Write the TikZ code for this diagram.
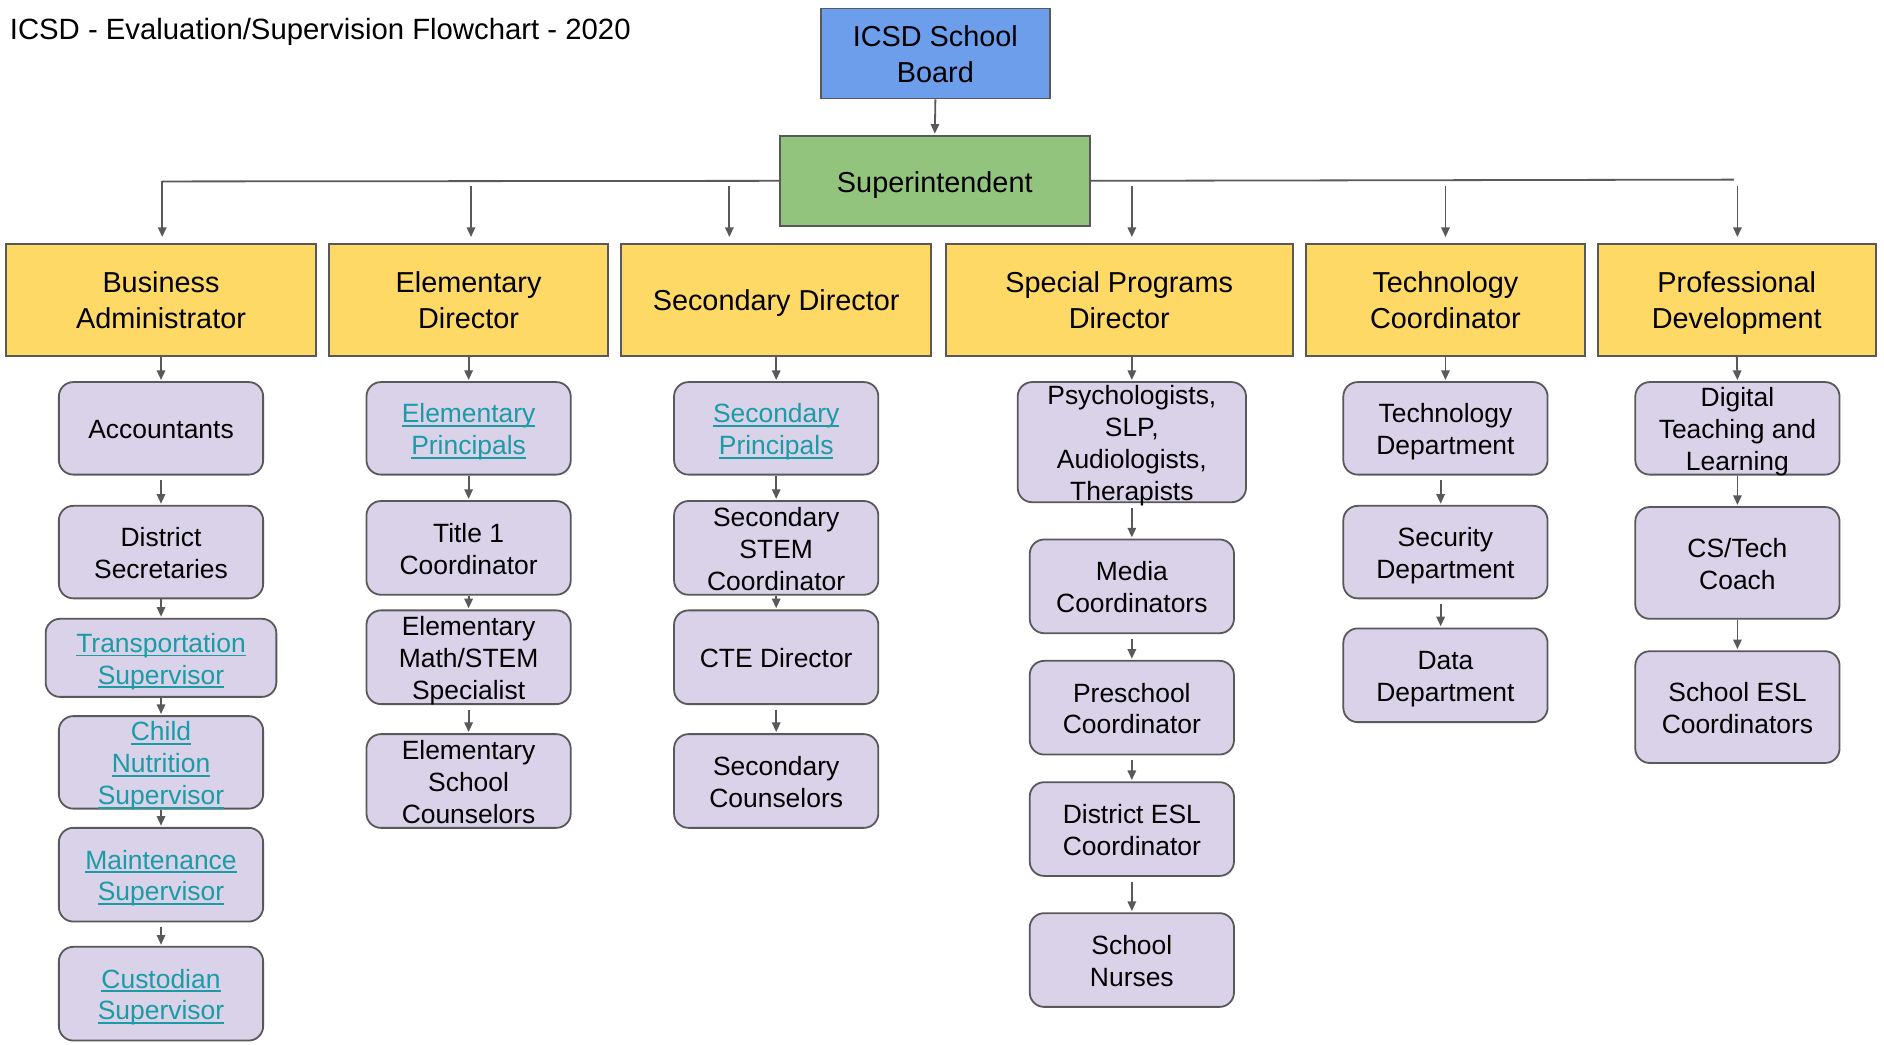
\documentclass[tikz,border=0pt]{standalone}
\usepackage{fontspec}
\setmainfont{Liberation Sans}
\usetikzlibrary{arrows.meta}
\definecolor{edgec}{HTML}{595959}
\definecolor{bluec}{HTML}{6D9EEB}
\definecolor{greenc}{HTML}{93C47D}
\definecolor{yelc}{HTML}{FFD966}
\definecolor{lavc}{HTML}{D9D2E9}
\definecolor{linkc}{HTML}{1A9BA6}
\newcommand{\lnk}[1]{{\color{linkc}\setbox0=\hbox{#1}\rlap{\rule[-3.5pt]{\wd0}{1.6pt}}\box0}}
\newcommand{\stbA}{\rule[-4.7pt]{0pt}{26.6pt}}
\newcommand{\steA}{\rule[-4.7pt]{0pt}{24.6pt}}
\newcommand{\stbB}{\rule[-5.1pt]{0pt}{28.8pt}}
\newcommand{\steB}{\rule[-5.1pt]{0pt}{26.8pt}}
\begin{document}
\begin{tikzpicture}[x=1pt,y=-1pt,
  topbox/.style={draw=edgec, line width=1.5, inner sep=0, align=center,
    font=\fontsize{24}{30}\selectfont},
  headbox/.style={topbox, fill=yelc, minimum height=93},
  lavbox/.style={draw=edgec, line width=1.5, fill=lavc, rounded corners=12,
    inner xsep=0, inner ysep=-4, align=center, minimum width=170, minimum height=77,
    font=\fontsize{22}{26.5}\selectfont},
  conn/.style={draw=edgec, line width=1.5},
  arr/.style={conn, -{Triangle[length=8,width=7]}, shorten >=1},
  garr/.style={arr, shorten <=4}
]
\useasboundingbox (0,0) rectangle (1568,869);

\node[anchor=base west, inner sep=0, font=\fontsize{24.4}{29}\selectfont] (title) at (8,33) {ICSD - Evaluation/Supervision Flowchart - 2020};

\node[topbox, fill=bluec, minimum width=191, minimum height=75] (board) at (778.5,44.5) {\stbB ICSD School\\Board\steB};
\node[topbox, fill=greenc, minimum width=258, minimum height=75] (sup) at (778,150.5) {\stbB Superintendent\steB};

\node[headbox, minimum width=258] (ba) at (134,249.5) {\stbB Business\\Administrator\steB};
\node[headbox, minimum width=232] (ed) at (390,249.5) {\stbB Elementary\\Director\steB};
\node[headbox, minimum width=258] (sd) at (646,249.5) {\stbB Secondary Director\steB};
\node[headbox, minimum width=289] (spd) at (931.5,249.5) {\stbB Special Programs\\Director\steB};
\node[headbox, minimum width=232] (tc) at (1203,249.5) {\stbB Technology\\Coordinator\steB};
\node[headbox, minimum width=231] (pd) at (1445.5,249.5) {\stbB Professional\\Development\steB};

% column 1
\node[lavbox] (acc) at (134,356.5) {\stbA Accountants\steA};
\node[lavbox] (dsec) at (134,459.5) {\stbA District\\Secretaries\steA};
\node[lavbox, minimum width=192, minimum height=65] (trans) at (134,547.5) {\stbA\lnk{Transportation}\\\lnk{Supervisor}\steA};
\node[lavbox] (child) at (134,634.5) {\stbA\lnk{Child}\\\lnk{Nutrition}\\\lnk{Supervisor}\steA};
\node[lavbox, minimum height=78] (maint) at (134,728) {\stbA\lnk{Maintenance}\\\lnk{Supervisor}\steA};
\node[lavbox, minimum height=78] (cust) at (134,827) {\stbA\lnk{Custodian}\\\lnk{Supervisor}\steA};

% column 2
\node[lavbox] (ep) at (390,356.5) {\stbA\lnk{Elementary}\\\lnk{Principals}\steA};
\node[lavbox, minimum height=78] (t1) at (390,456) {\stbA Title 1\\Coordinator\steA};
\node[lavbox, minimum height=78] (emath) at (390,547) {\stbA Elementary\\Math/STEM\\Specialist\steA};
\node[lavbox, minimum height=78] (esc) at (390,650) {\stbA Elementary\\School\\Counselors\steA};

% column 3
\node[lavbox] (sp) at (646,356.5) {\stbA\lnk{Secondary}\\\lnk{Principals}\steA};
\node[lavbox, minimum height=78] (stem) at (646,456) {\stbA Secondary\\STEM\\Coordinator\steA};
\node[lavbox, minimum height=78] (cte) at (646,547) {\stbA CTE Director\steA};
\node[lavbox, minimum height=78] (scoun) at (646,650) {\stbA Secondary\\Counselors\steA};

% column 4
\node[lavbox, minimum width=190, minimum height=100] (psy) at (942,368) {\stbA Psychologists,\\SLP,\\Audiologists,\\Therapists\steA};
\node[lavbox, minimum height=78] (media) at (942,488) {\stbA Media\\Coordinators\steA};
\node[lavbox, minimum height=78] (pre) at (942,589) {\stbA Preschool\\Coordinator\steA};
\node[lavbox, minimum height=78] (desl) at (942,690) {\stbA District ESL\\Coordinator\steA};
\node[lavbox, minimum height=78] (nurse) at (942,799) {\stbA School\\Nurses\steA};

% column 5
\node[lavbox] (td) at (1203,356.5) {\stbA Technology\\Department\steA};
\node[lavbox] (secd) at (1203,459.5) {\stbA Security\\Department\steA};
\node[lavbox, minimum height=78] (dd) at (1203,562) {\stbA Data\\Department\steA};

% column 6
\node[lavbox] (dtl) at (1446,356.5) {\stbA Digital\\Teaching and\\Learning\steA};
\node[lavbox, minimum height=93] (cs) at (1446,468.5) {\stbA CS/Tech\\Coach\steA};
\node[lavbox, minimum height=93] (sesl) at (1446,588.5) {\stbA School ESL\\Coordinators\steA};

% top connectors
\draw[arr] (board.south) -- (sup.north);
\coordinate (c1) at (135,151);
\coordinate (c2) at (392,155);
\coordinate (c3) at (607,155);
\coordinate (c4) at (942,155);
\coordinate (c5) at (1203,155);
\coordinate (c6) at (1446,155);
\coordinate (rend) at (1443,149.5);
\draw[conn] (sup.west) -- (c1);
\draw[conn] (sup.east) -- (rend);
\draw[arr, shorten >=5] (c1) -- (c1 |- ba.north);
\draw[arr, shorten >=5] (c2) -- (c2 |- ed.north);
\draw[arr, shorten >=5] (c3) -- (c3 |- sd.north);
\draw[arr, shorten >=5] (c4) -- (c4 |- spd.north);
\draw[arr, shorten >=5] (c5) -- (c5 |- tc.north);
\draw[arr, shorten >=5] (c6) -- (c6 |- pd.north);

% column 1 arrows
\draw[arr] (ba.south) -- (acc.north);
\draw[garr] (acc.south) -- (dsec.north);
\draw[arr] (dsec.south) -- (trans.north);
\draw[arr] (trans.south) -- (child.north);
\draw[arr] (child.south) -- (maint.north);
\draw[garr] (maint.south) -- (cust.north);

% column 2 arrows
\draw[arr] (ed.south) -- (ep.north);
\draw[arr] (ep.south) -- (t1.north);
\draw[arr] (t1.south) -- (emath.north);
\draw[garr] (emath.south) -- (esc.north);

% column 3 arrows
\draw[arr] (sd.south) -- (sp.north);
\draw[arr] (sp.south) -- (stem.north);
\draw[arr] (stem.south) -- (cte.north);
\draw[garr] (cte.south) -- (scoun.north);

% column 4 arrows
\draw[arr] (psy.north |- spd.south) -- (psy.north);
\draw[garr] (psy.south) -- (media.north);
\draw[garr] (media.south) -- (pre.north);
\draw[garr] (pre.south) -- (desl.north);
\draw[garr] (desl.south) -- (nurse.north);

% column 5 arrows
\draw[arr] (tc.south) -- (td.north);
\draw[garr] ([xshift=-4]td.south) -- ([xshift=-4]secd.north);
\draw[garr] ([xshift=-4]secd.south) -- ([xshift=-4]dd.north);

% column 6 arrows
\draw[arr] (pd.south) -- (dtl.north);
\draw[arr] (dtl.south) -- (cs.north);
\draw[arr] (cs.south) -- (sesl.north);
\end{tikzpicture}
\end{document}
